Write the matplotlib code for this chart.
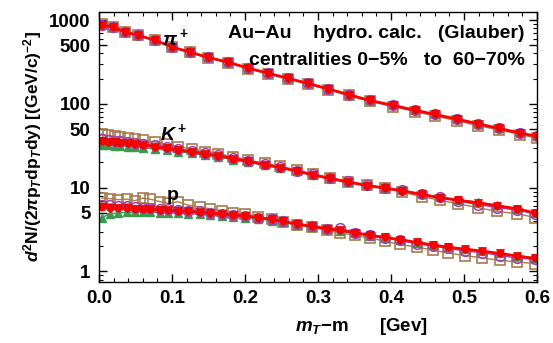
import matplotlib
matplotlib.use("Agg")
import matplotlib.pyplot as plt
import matplotlib.ticker as ticker

plt.rcParams['font.family'] = ['Liberation Sans', 'DejaVu Sans']
plt.rcParams['font.weight'] = 'bold'
plt.rcParams['axes.labelweight'] = 'bold'
plt.rcParams['mathtext.fontset'] = 'custom'
plt.rcParams['mathtext.rm'] = 'Liberation Sans:bold'
plt.rcParams['mathtext.it'] = 'Liberation Sans:bold:italic'
plt.rcParams['mathtext.bf'] = 'Liberation Sans:bold'

# pions (all centralities lie on top of each other)
pi_x = [0.004, 0.019, 0.036, 0.053, 0.077, 0.100, 0.125, 0.149, 0.177, 0.204, 0.232, 0.259,
        0.286, 0.314, 0.342, 0.371, 0.403, 0.433, 0.460, 0.490, 0.519, 0.548, 0.577, 0.600]
pi_red = [880, 820, 720, 660, 575, 478, 414, 360, 314, 268, 232, 202,
          176, 151, 129, 110, 96, 84, 75, 66, 58, 51, 45, 41]
pi_brown = [890, 830, 730, 665, 580, 480, 412, 356, 310, 264, 228, 198,
            172, 148, 126, 107, 93, 81, 72, 63, 55, 49, 43, 39]

# kaons
k_x = [0.004, 0.012, 0.022, 0.029, 0.040, 0.049, 0.060, 0.077, 0.093, 0.108, 0.127, 0.145,
       0.163, 0.184, 0.204, 0.227, 0.248, 0.271, 0.293, 0.316, 0.341, 0.367, 0.392, 0.415,
       0.442, 0.467, 0.492, 0.519, 0.545, 0.573, 0.597]
k_red = [36, 35.5, 35, 34.5, 34, 33, 32.5, 31, 29.5, 28.2, 26.8, 25.3,
         24, 22.2, 20.6, 18.9, 17.4, 15.8, 14.2, 12.9, 11.7, 10.6, 9.9, 9.2,
         8.3, 7.6, 7.1, 6.6, 6.1, 5.6, 5.0]
k_brown = [44, 42, 41, 40, 39, 38, 37, 35, 33, 31, 29, 27,
           25.5, 23.5, 21.5, 19.5, 18, 16.3, 14.6, 13.2, 11.8, 10.7, 9.8, 8.9,
           7.8, 7.1, 6.4, 5.8, 5.2, 4.9, 4.4]
k_purple = [38, 37, 36.5, 36, 35, 34.5, 33.5, 32, 30.5, 29, 27.5, 26,
            24.5, 22.8, 21, 19.3, 17.7, 16, 14.5, 13.1, 11.9, 10.8, 10.0, 9.3,
            8.3, 7.7, 6.9, 6.3, 5.8, 5.4, 4.9]
k_green = [32, 32, 31.5, 31.5, 31, 30.5, 30, 29, 28, 27, 25.8, 24.5,
           23.3, 21.7, 20.2, 18.6, 17.2, 15.7, 14.2, 12.9, 11.7, 10.7, 10.0, 9.3,
           8.4, 7.7, 7.2, 6.7, 6.2, 5.6, 5.0]

# protons
p_x = [0.004, 0.015, 0.026, 0.038, 0.049, 0.060, 0.070, 0.084, 0.095, 0.108, 0.122, 0.138,
       0.152, 0.169, 0.184, 0.200, 0.218, 0.237, 0.252, 0.271, 0.292, 0.312, 0.330, 0.351,
       0.371, 0.392, 0.412, 0.436, 0.458, 0.478, 0.501, 0.525, 0.549, 0.573, 0.597]
p_red = [5.9, 5.8, 5.7, 5.7, 5.6, 5.55, 5.5, 5.45, 5.4, 5.3, 5.2, 5.1,
         5.0, 4.85, 4.75, 4.6, 4.4, 4.2, 3.95, 3.7, 3.45, 3.25, 3.1, 2.9,
         2.7, 2.55, 2.4, 2.22, 2.07, 1.95, 1.85, 1.75, 1.64, 1.53, 1.43]
p_brown = [7.5, 7.4, 7.2, 7.3, 7.0, 7.5, 7.3, 6.8, 6.5, 6.8, 6.2, 5.9,
           5.6, 5.3, 5.0, 4.8, 4.5, 4.2, 3.9, 3.6, 3.35, 3.1, 2.9, 2.7,
           2.5, 2.3, 2.1, 1.95, 1.8, 1.66, 1.55, 1.45, 1.36, 1.3, 1.24]
p_purple = [6.3, 6.2, 6.1, 6.0, 5.9, 5.8, 5.7, 5.6, 5.5, 5.4, 5.3, 5.2,
            5.05, 4.9, 4.75, 4.6, 4.4, 4.2, 3.95, 3.7, 3.5, 3.25, 3.3, 2.9,
            2.7, 2.5, 2.35, 2.15, 2.0, 1.9, 1.75, 1.68, 1.55, 1.45, 1.4]
p_green = [4.4, 4.9, 5.0, 5.1, 5.1, 5.1, 5.1, 5.05, 5.0, 4.95, 4.9, 4.8,
           4.7, 4.6, 4.5, 4.4, 4.25, 4.05, 3.85, 3.6, 3.4, 3.2, 3.05, 2.85,
           2.67, 2.52, 2.38, 2.2, 2.06, 1.95, 1.85, 1.75, 1.65, 1.55, 1.45]

x_ticks = [0.0, 0.1, 0.2, 0.3, 0.4, 0.5, 0.6]
y_ticks = [1, 5, 10, 50, 100, 500, 1000]
y_tick_labels = ["1", "5", "10", "50", "100", "500", "1000"]

fig = plt.figure(figsize=(5.53, 3.43), dpi=100)
ax = fig.add_axes([0.179, 0.178, 0.792, 0.787])

brown = "#a67c4e"
purple = "#a040b0"
green = "#3a9a50"
red = "#ff0000"

for xs, yb, yp, yg, yr in [(pi_x, pi_brown, pi_red, pi_red, pi_red),
                           (k_x, k_brown, k_purple, k_green, k_red),
                           (p_x, p_brown, p_purple, p_green, p_red)]:
    ax.plot(xs, yb, color=brown, lw=1, marker="s", ms=7.5, mfc="none", mec=brown, mew=1.2)
    ax.plot(xs, yg, color=green, lw=1, marker="^", ms=6, mfc=green, mec=green)
    ax.plot(xs, yp, color=purple, lw=1, marker="o", ms=7, mfc="none", mec=purple, mew=1.1)
    ax.plot(xs, yr, color=red, lw=2, marker="o", ms=4.5, mfc=red, mec=red)
    ax.plot(xs, yr, color=red, lw=0, marker="v", ms=6, mfc=red, mec="#dd0000", mew=0.5)

ax.set_yscale("log")
ax.set_xlim(0, 0.6)
ax.set_ylim(0.75, 1250)
ax.set_xticks(x_ticks)
ax.set_xticklabels([f"{v:.1f}" for v in x_ticks])
ax.xaxis.set_minor_locator(ticker.MultipleLocator(0.02))
ax.yaxis.set_major_locator(ticker.FixedLocator(y_ticks))
ax.yaxis.set_major_formatter(ticker.FixedFormatter(y_tick_labels))
ax.yaxis.set_minor_locator(ticker.LogLocator(subs=(2, 3, 4, 6, 7, 8, 9), numticks=20))
ax.yaxis.set_minor_formatter(ticker.NullFormatter())
ax.tick_params(which="both", direction="in", top=True, right=True, labelsize=13.5, pad=6)
ax.tick_params(which="major", length=6, width=1)
ax.tick_params(which="minor", length=3, width=0.8)
for s in ax.spines.values():
    s.set_linewidth(1)

ax.set_ylabel(r"$d^2$N/(2$\pi$p$_T$dp$_T$dy) [(GeV/c)$^{-2}$]", fontsize=12.5, labelpad=4)
ax.set_xlabel(r"$m_T$$-$m      [Gev]", fontsize=13.5, x=0.60, labelpad=6)

ax.text(0.295, 0.922, "Au\u2212Au    hydro. calc.   (Glauber)", transform=ax.transAxes,
        fontsize=14, ha="left", va="center")
ax.text(0.342, 0.822, "centralities 0\u22125%   to  60\u221270%", transform=ax.transAxes,
        fontsize=14, ha="left", va="center")
ax.text(0.144, 0.905, r"$\pi^+$", transform=ax.transAxes, fontsize=14, ha="left", va="center")
ax.text(0.139, 0.552, r"$K^+$", transform=ax.transAxes, fontsize=14, ha="left", va="center")
ax.text(0.155, 0.322, "p", transform=ax.transAxes, fontsize=14, ha="left", va="center")

fig.savefig("out.png", dpi=100)
